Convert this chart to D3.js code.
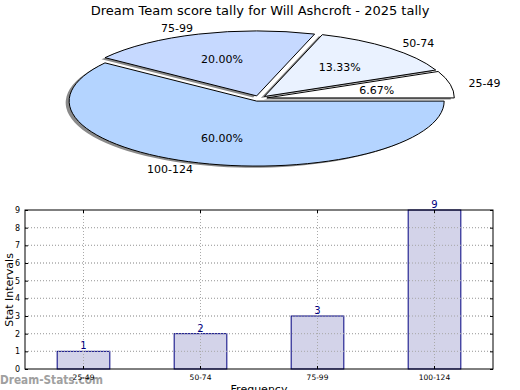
<!DOCTYPE html>
<html><head><meta charset="utf-8">
<script src="https://cdn.jsdelivr.net/npm/d3@7"></script>
<style>body{margin:0;background:#fff}svg{display:block}text{font-family:"DejaVu Sans",sans-serif}</style>
</head><body>
<svg id="c" width="520" height="390"></svg>
<script>
const categories = ["25-49","50-74","75-99","100-124"];
const counts = [1, 2, 3, 9];
const percentLabels = ["6.67%","13.33%","20.00%","60.00%"];
const sliceColors = ["#ffffff","#eaf2ff","#c6d9ff","#b4d4ff"];
const yTicks = [0,1,2,3,4,5,6,7,8,9];
const title = "Dream Team score tally for Will Ashcroft - 2025 tally";

const svg = d3.select("#c");
svg.append("text").attr("x",260).attr("y",15).attr("text-anchor","middle")
  .attr("font-size",13).text(title);

// ---- pie (elliptical, exploded, with shadow) ----
const cx = 259.1, cy = 98.5, rx = 187.5, ry = 65, ex = 0.042;
const pie = d3.pie().sort(null).startAngle(Math.PI/2).endAngle(Math.PI/2 - 2*Math.PI);
const arcs = pie(counts);
const arc = d3.arc().innerRadius(0).outerRadius(1);
function off(a){ const m=(a.startAngle+a.endAngle)/2; return [Math.sin(m), -Math.cos(m)]; }
const g = svg.append("g");
arcs.forEach(a=>{
  const [ux,uy]=off(a);
  g.append("path").attr("d",arc(a))
   .attr("transform",`translate(${cx+ux*ex*rx-3.5},${cy+uy*ex*ry+1.6}) scale(${rx},${ry})`)
   .attr("fill","#8a8a8a");
});
arcs.forEach((a,i)=>{
  const [ux,uy]=off(a);
  g.append("path").attr("d",arc(a))
   .attr("transform",`translate(${cx+ux*ex*rx},${cy+uy*ex*ry}) scale(${rx},${ry})`)
   .attr("fill",sliceColors[i]).attr("stroke","#000").attr("stroke-width",1)
   .attr("vector-effect","non-scaling-stroke").attr("stroke-linejoin","round");
});
arcs.forEach((a,i)=>{
  const [ux,uy]=off(a);
  const ox=cx+ux*ex*rx, oy=cy+uy*ex*ry;
  g.append("text").attr("x",ox+ux*0.6*rx).attr("y",oy+uy*0.6*ry).attr("dy","0.35em")
   .attr("text-anchor","middle").attr("font-size",11).text(percentLabels[i]);
  g.append("text").attr("x",ox+ux*1.1*rx).attr("y",oy+uy*1.1*ry).attr("dy","0.35em")
   .attr("text-anchor", ux<0?"end":"start").attr("font-size",11).text(categories[i]);
});

// watermark (under axis labels)
svg.append("text").attr("x",0).attr("y",384).attr("font-size",13).attr("font-weight","bold")
  .attr("textLength",103).attr("lengthAdjust","spacingAndGlyphs")
  .attr("fill","#a0a0a0").text("Dream-Stats.com");

// ---- bar chart ----
const L=25, R=493, T=210, B=369;
const x = d3.scaleBand().domain(categories).range([L,R]).padding(0);
const y = d3.scaleLinear().domain([0,9]).range([B,T]);
const bw = x.bandwidth()*0.45;
const bg = svg.append("g");
function grid(){
  bg.append("g").selectAll("line").data(yTicks.slice(1,-1)).join("line")
    .attr("x1",L).attr("x2",R).attr("y1",d=>y(d)).attr("y2",d=>y(d))
    .attr("stroke","#aaa").attr("stroke-width",1).attr("stroke-dasharray","1,2");
  bg.append("g").selectAll("line").data(categories).join("line")
    .attr("x1",d=>x(d)+x.bandwidth()/2).attr("x2",d=>x(d)+x.bandwidth()/2)
    .attr("y1",T).attr("y2",B)
    .attr("stroke","#aaa").attr("stroke-width",1).attr("stroke-dasharray","1,2");
}
grid();
bg.append("g").selectAll("rect").data(categories).join("rect")
  .attr("x",d=>x(d)+x.bandwidth()/2-bw/2).attr("width",bw)
  .attr("y",(d,i)=>y(counts[i])).attr("height",(d,i)=>B-y(counts[i]))
  .attr("fill","#cbcbe5").attr("fill-opacity",0.85).attr("stroke","#000080").attr("stroke-width",1);
grid();
bg.append("g").selectAll("text").data(categories).join("text")
  .attr("x",d=>x(d)+x.bandwidth()/2).attr("y",(d,i)=>y(counts[i])-2)
  .attr("text-anchor","middle").attr("font-size",10).attr("fill","#000080")
  .text((d,i)=>counts[i]);
bg.append("rect").attr("x",L).attr("y",T).attr("width",R-L).attr("height",B-T)
  .attr("fill","none").attr("stroke","#000").attr("stroke-width",1);
const ya = bg.append("g").attr("transform",`translate(${L},0)`)
  .call(d3.axisLeft(y).tickValues(yTicks).tickSize(-3).tickPadding(5).tickFormat(d3.format("d")));
ya.select(".domain").remove();
ya.selectAll("text").attr("font-size",8).attr("font-family","DejaVu Sans");
const ya2 = bg.append("g").attr("transform",`translate(${R},0)`)
  .call(d3.axisRight(y).tickValues(yTicks).tickSize(-3).tickFormat(""));
ya2.select(".domain").remove();
const xa = bg.append("g").attr("transform",`translate(0,${B})`)
  .call(d3.axisBottom(x).tickSize(-3).tickPadding(6));
xa.select(".domain").remove();
xa.selectAll("text").attr("font-size",7.5).attr("font-family","DejaVu Sans");
const xa2 = bg.append("g").attr("transform",`translate(0,${T})`)
  .call(d3.axisTop(x).tickSize(-3).tickFormat(""));
xa2.select(".domain").remove();
bg.selectAll(".tick line").attr("stroke","#000");

svg.append("text").attr("transform","translate(13,290) rotate(-90)")
  .attr("text-anchor","middle").attr("font-size",11).text("Stat Intervals");
svg.append("text").attr("x",259).attr("y",393).attr("text-anchor","middle")
  .attr("font-size",11).text("Frequency");
</script>
</body></html>
